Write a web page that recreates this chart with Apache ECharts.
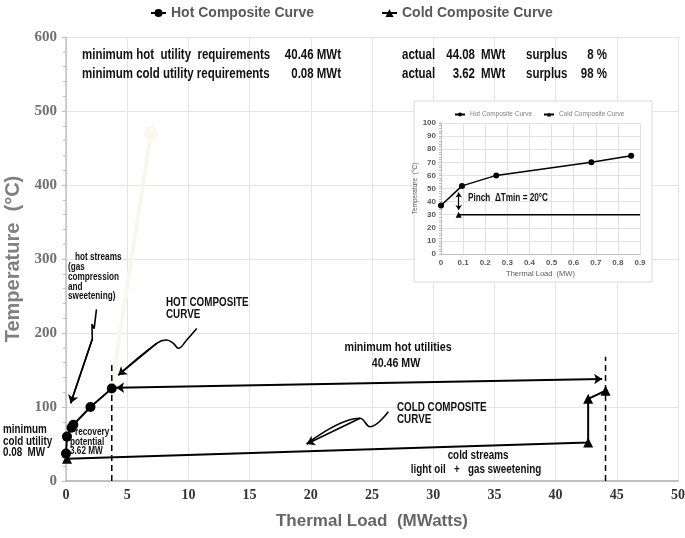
<!DOCTYPE html>
<html><head><meta charset="utf-8">
<script src="https://cdn.jsdelivr.net/npm/echarts@6/dist/echarts.min.js"></script>
<style>html,body{margin:0;padding:0;background:#fff}#c{width:685px;height:538px}</style>
</head><body><div id="c"></div>
<script>
// ---- main chart data ----
const hotLoad = [0, 0.08, 0.45, 0.6, 2.0, 3.74];
const hotTemp = [37, 60, 72, 76, 100, 125];
const coldLoad = [0.08, 42.66, 42.66, 44.08];
const coldTemp = [30, 52, 111, 122];
const dashedLoad = [3.74, 44.08];
const dashedTop = [160, 168];
const utilityArrowLoad = [4.1, 43.8];
const utilityArrowTemp = [126, 138];
const hotStreamsArrowLoad = [2.49, 2.3, 2.12, 2.15, 0.38];
const hotStreamsArrowTemp = [232, 206, 212, 192, 105];
const hotCurveArrowLoad = [10.68, 9.86, 9.18, 8.77, 8.23, 7.41, 4.27];
const hotCurveArrowTemp = [206, 190.5, 179.3, 186, 190.5, 186, 143];
const coldCurveArrowLoad = [26.33, 24.84, 24.02, 19.66];
const coldCurveArrowTemp = [93.6, 73.4, 84.7, 50];
const streakLoad = [6.94, 3.76];
const streakTemp = [470, 130];
// ---- inset data ----
const insetHotLoad = [0, 0.095, 0.25, 0.68, 0.86];
const insetHotTemp = [37, 52, 60, 70, 75];
const insetColdLoad = [0.08, 0.9];
const insetColdTemp = [30, 30];
const pinchLoad = [0.08, 0.08];
const pinchTemp = [33.5, 47];

const SANS = "'Liberation Sans',Arial,sans-serif";
const SERIF = "'Liberation Serif','Times New Roman',serif";
const SQ = 0.82; // horizontal squeeze of the reference's lettering

function pts(xs, ys) { return xs.map((x, i) => [x, ys[i]]); }
function T(x, y, text, size, opts) {
  return { type: 'text', x: x, y: y, scaleX: SQ, z: 100, silent: true,
    style: Object.assign({ text: text, fill: '#111', font: 'bold ' + size + 'px ' + SANS,
      align: 'left', verticalAlign: 'middle' }, opts || {}) };
}
const black = '#000';

function curve(xs, ys, smooth) {
  return { type: 'line', data: pts(xs, ys), symbol: 'none', smooth: smooth, silent: true,
    lineStyle: { color: black, width: 1.6 }, z: 6 };
}
function head(xs, ys) {
  const n = xs.length;
  return { type: 'lines', coordinateSystem: 'cartesian2d', xAxisIndex: 0, yAxisIndex: 0,
    symbol: ['none', 'arrow'], symbolSize: 8, silent: true,
    lineStyle: { color: black, width: 1.6, opacity: 1, curveness: 0 }, z: 6,
    data: [{ coords: [[xs[n - 2], ys[n - 2]], [xs[n - 1], ys[n - 1]]] }] };
}

const chart = echarts.init(document.getElementById('c'), null, { renderer: 'canvas' });
const option = {
  animation: false,
  backgroundColor: '#fff',
  grid: [
    { left: 66, right: 7, top: 37, bottom: 57, outerBoundsMode: 'none', containLabel: false },
    { left: 441, top: 123, width: 199, height: 131, outerBoundsMode: 'none', containLabel: false }
  ],
  legend: [
    { data: ['Hot Composite Curve'], left: 145, top: 1, itemWidth: 15, itemHeight: 10,
      textStyle: { fontFamily: SANS, fontWeight: 'bold', fontSize: 14, color: '#595959' } },
    { data: ['Cold Composite Curve'], left: 376, top: 1, itemWidth: 15, itemHeight: 10,
      textStyle: { fontFamily: SANS, fontWeight: 'bold', fontSize: 14, color: '#595959' } },
    { data: ['Hot Composite Curve'], left: 449, top: 106, itemWidth: 10, itemHeight: 5, z: 10,
      textStyle: { fontFamily: SANS, fontSize: 6.5, color: '#7f7f7f' } },
    { data: ['Cold Composite Curve'], left: 538, top: 106, itemWidth: 10, itemHeight: 5, z: 10,
      textStyle: { fontFamily: SANS, fontSize: 6.5, color: '#7f7f7f' } }
  ],
  xAxis: [
    { type: 'value', gridIndex: 0, min: 0, max: 50, interval: 5,
      name: 'Thermal Load  (MWatts)', nameLocation: 'middle', nameGap: 32,
      nameTextStyle: { fontFamily: SANS, fontWeight: 'bold', fontSize: 17, color: '#666' },
      axisLine: { lineStyle: { color: '#bfbfbf', width: 2 } },
      axisTick: { show: false },
      axisLabel: { fontFamily: SERIF, fontWeight: 'bold', fontSize: 14, color: '#333', margin: 7 },
      splitLine: { lineStyle: { color: '#e4e4e4' } } },
    { type: 'value', gridIndex: 1, min: 0, max: 0.9, interval: 0.1, z: 3,
      name: 'Thermal Load  (MW)', nameLocation: 'middle', nameGap: 16,
      nameTextStyle: { fontFamily: SANS, fontSize: 7.5, color: '#595959' },
      axisLine: { lineStyle: { color: '#bfbfbf', width: 1 } },
      axisTick: { show: false },
      axisLabel: { fontFamily: SANS, fontWeight: 'bold', fontSize: 8, color: '#595959', margin: 5,
        formatter: v => v === 0 ? '0' : v.toFixed(1) },
      splitLine: { lineStyle: { color: '#e2e2e2' } } }
  ],
  yAxis: [
    { type: 'value', gridIndex: 0, min: 0, max: 600, interval: 100,
      name: 'Temperature  (°C)', nameLocation: 'middle', nameGap: 42,
      nameTextStyle: { fontFamily: SANS, fontWeight: 'bold', fontSize: 20, color: '#808080' },
      axisLine: { show: true, lineStyle: { color: '#bfbfbf', width: 1.5 } },
      axisTick: { show: true, length: 4, lineStyle: { color: '#bfbfbf' } },
      minorTick: { show: true, splitNumber: 5, length: 3, lineStyle: { color: '#bfbfbf' } },
      axisLabel: { fontFamily: SERIF, fontWeight: 'bold', fontSize: 15, color: '#707070', margin: 9 },
      splitLine: { lineStyle: { color: '#e4e4e4' } } },
    { type: 'value', gridIndex: 1, min: 0, max: 100, interval: 10, z: 3,
      name: 'Temperature  (°C)', nameLocation: 'middle', nameGap: 15,
      nameTextStyle: { fontFamily: SANS, fontSize: 6.5, color: '#595959' },
      axisLine: { show: true, lineStyle: { color: '#bfbfbf', width: 1 } },
      axisTick: { show: true, length: 2, lineStyle: { color: '#bfbfbf' } },
      minorTick: { show: true, splitNumber: 5, length: 2, lineStyle: { color: '#bfbfbf' } },
      axisLabel: { fontFamily: SANS, fontWeight: 'bold', fontSize: 8, color: '#595959', margin: 5 },
      splitLine: { lineStyle: { color: '#e2e2e2' } } }
  ],
  graphic: [
    { type: 'rect', z: 1, silent: true, shape: { x: 414, y: 101, width: 238, height: 181 },
      style: { fill: '#fff', stroke: '#d9d9d9', lineWidth: 1 } },
    T(82, 55, 'minimum hot  utility  requirements', 14),
    T(341, 55, '40.46 MWt', 14, { align: 'right' }),
    T(402, 55, 'actual', 14),
    T(475, 55, '44.08', 14, { align: 'right' }),
    T(481, 55, 'MWt', 14),
    T(526, 55, 'surplus', 14),
    T(607, 55, '8 %', 14, { align: 'right' }),
    T(82, 74, 'minimum cold utility requirements', 14),
    T(341, 74, '0.08 MWt', 14, { align: 'right' }),
    T(402, 74, 'actual', 14),
    T(475, 74, '3.62', 14, { align: 'right' }),
    T(481, 74, 'MWt', 14),
    T(526, 74, 'surplus', 14),
    T(607, 74, '98 %', 14, { align: 'right' }),
    T(75, 257, 'hot streams', 10),
    T(68, 267.5, '(gas', 10),
    T(68, 277, 'compression', 10),
    T(68, 287, 'and', 10),
    T(68, 296.5, 'sweetening)', 10),
    T(166, 303, 'HOT COMPOSITE', 12),
    T(166, 315, 'CURVE', 12),
    T(398, 347, 'minimum hot utilities', 13, { align: 'center' }),
    T(396, 363, '40.46 MW', 13, { align: 'center' }),
    T(397, 408, 'COLD COMPOSITE', 12),
    T(397, 419.5, 'CURVE', 12),
    T(478, 456, 'cold streams', 12, { align: 'center' }),
    T(476, 470, 'light oil   +   gas sweetening', 12, { align: 'center' }),
    T(3, 430, 'minimum', 12),
    T(3, 441.5, 'cold utility', 12),
    T(3, 453, '0.08  MW', 12),
    T(75, 432, 'recovery', 10),
    T(70, 442, 'potential', 10),
    T(70, 451.5, '3.62 MW', 10),
    T(468, 198.5, 'Pinch  ΔTmin = 20°C', 10)
  ],
  series: [
    { type: 'line', data: pts(streakLoad, streakTemp), silent: true, z: 2,
      symbol: 'none', lineStyle: { color: '#f7f7ef', width: 4 } },
    { type: 'scatter', data: [[streakLoad[0], streakTemp[0]]], silent: true, z: 2,
      symbol: 'circle', symbolSize: 15, itemStyle: { color: '#f7f7ef' } },
    { name: 'Hot Composite Curve', type: 'line', data: pts(hotLoad, hotTemp), z: 5,
      symbol: 'circle', symbolSize: 10, lineStyle: { color: black, width: 2 }, itemStyle: { color: black } },
    { name: 'Cold Composite Curve', type: 'line', data: pts(coldLoad, coldTemp), z: 5,
      symbol: 'triangle', symbolSize: 10, lineStyle: { color: black, width: 2 }, itemStyle: { color: black } },
    ...dashedLoad.map((x, i) => ({ type: 'line', data: [[x, 0], [x, dashedTop[i]]], symbol: 'none', silent: true, z: 4,
      lineStyle: { color: black, width: 1.5, type: [6, 4] } })),
    { type: 'lines', coordinateSystem: 'cartesian2d', xAxisIndex: 0, yAxisIndex: 0, silent: true, z: 6,
      symbol: ['arrow', 'arrow'], symbolSize: 8,
      lineStyle: { color: black, width: 2, opacity: 1, curveness: 0 },
      data: [{ coords: pts(utilityArrowLoad, utilityArrowTemp) }] },
    curve(hotStreamsArrowLoad, hotStreamsArrowTemp, false), head(hotStreamsArrowLoad, hotStreamsArrowTemp),
    curve(hotCurveArrowLoad, hotCurveArrowTemp, 0.4), head(hotCurveArrowLoad, hotCurveArrowTemp),
    curve(coldCurveArrowLoad, coldCurveArrowTemp, 0.4), head(coldCurveArrowLoad, coldCurveArrowTemp),
    // inset
    { name: 'Hot Composite Curve', type: 'line', xAxisIndex: 1, yAxisIndex: 1, z: 8,
      data: pts(insetHotLoad, insetHotTemp), symbol: 'circle', symbolSize: 6,
      lineStyle: { color: black, width: 1.5 }, itemStyle: { color: black } },
    { name: 'Cold Composite Curve', type: 'line', xAxisIndex: 1, yAxisIndex: 1, z: 8,
      data: pts(insetColdLoad, insetColdTemp).map((p, i) => i === 0 ? { value: p } : { value: p, symbol: 'none' }),
      symbol: 'triangle', symbolSize: 6,
      lineStyle: { color: black, width: 1.5 }, itemStyle: { color: black } },
    { type: 'lines', coordinateSystem: 'cartesian2d', xAxisIndex: 1, yAxisIndex: 1, silent: true, z: 8,
      symbol: ['arrow', 'arrow'], symbolSize: 5,
      lineStyle: { color: black, width: 1.2, opacity: 1, curveness: 0 },
      data: [{ coords: pts(pinchLoad, pinchTemp) }] }
  ]
};
chart.setOption(option);
</script>
</body></html>
